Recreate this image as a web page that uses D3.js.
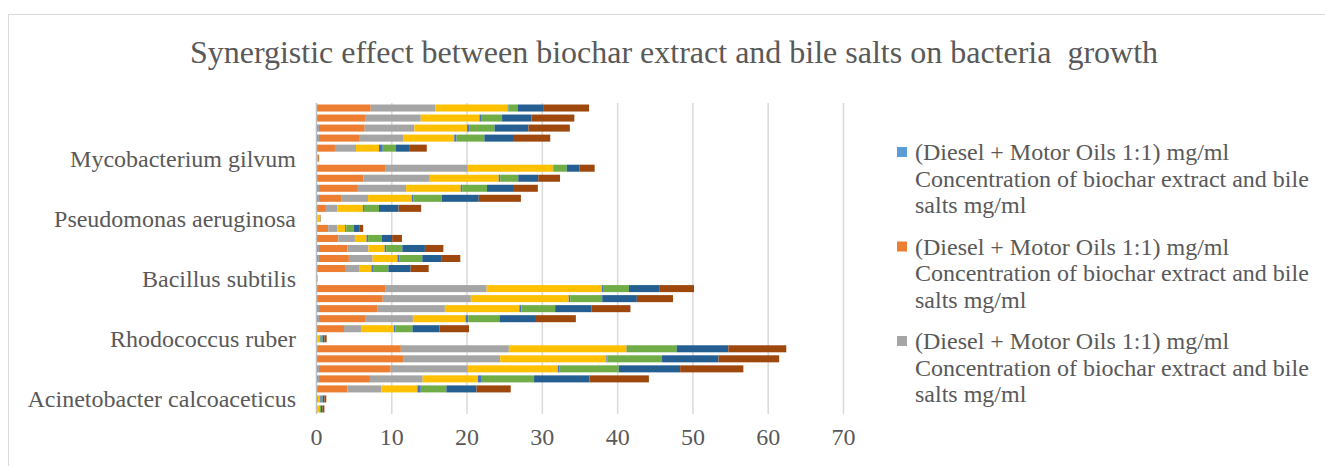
<!DOCTYPE html>
<html>
<head>
<meta charset="utf-8">
<script src="https://cdn.jsdelivr.net/npm/d3@7"></script>
<style>
  body { margin: 0; background: #fff; }
  svg text { font-family: "Liberation Serif", "Times New Roman", serif; fill: #595959; }
</style>
</head>
<body>
<div id="chart"></div>
<script>
// categories, bottom row first (Excel order)
const categories = ["", "Acinetobacter calcoaceticus", "", "", "", "", "", "Rhodococcus ruber", "", "", "", "", "",
    "Bacillus subtilis", "", "", "", "", "", "Pseudomonas aeruginosa", "", "", "", "", "",
    "Mycobacterium gilvum", "", "", "", "", ""];

const seriesName = "(Diesel + Motor Oils 1:1) mg/ml Concentration of biochar extract and bile salts mg/ml";

const blue     = [0,0,0,0.3,0.3,0,0,0,0,0.3,0.3,0,0,0,0,0.3,0.3,0.2,0,0,0,0.3,0.3,0,0,0,0,0.3,0.3,0,0];
const orange   = [0,0,4.1,6.8,9.55,11.5,11.2,0,3.65,6.15,7.75,8.8,9.2,0,3.9,4.0,3.8,2.7,1.55,0.05,1.25,3.05,5.2,6.25,9.2,0.1,2.45,5.35,6.1,6.55,7.2];
const gray     = [0.15,0.2,4.5,7.0,10.25,12.9,14.35,0.15,2.35,6.35,9.0,11.7,13.4,0.15,1.75,3.15,2.8,2.2,1.2,0.05,1.5,3.5,6.4,8.8,10.9,0.1,2.8,5.85,6.6,7.3,8.6];
const yellow   = [0.25,0.3,4.8,7.35,11.95,14.1,15.65,0.3,4.3,7.0,9.9,13.0,15.3,0,1.65,3.3,2.15,1.55,1.05,0.35,3.4,5.8,7.25,9.15,11.3,0.05,3.05,6.8,7.0,7.8,9.6];
const blue2    = [0,0.1,0.45,0.4,0.25,0.15,0.15,0.1,0.15,0.35,0.25,0.2,0.15,0,0.2,0.3,0.2,0.2,0.15,0,0.15,0.25,0.2,0.2,0.05,0,0.5,0.3,0.35,0.2,0.1];
const green    = [0.2,0.2,3.4,7.05,7.85,7.25,6.5,0.25,2.3,4.15,4.5,4.25,3.45,0,2.05,3.0,2.15,1.8,1.0,0.05,2.0,3.75,3.3,2.4,1.8,0,1.75,3.7,3.3,2.8,1.2];
const darkblue = [0.2,0.25,4.0,7.35,8.15,7.5,6.85,0.25,3.6,4.85,4.85,4.6,4.1,0,2.95,2.5,3.0,1.4,0.8,0,2.6,4.9,3.45,2.65,1.7,0,1.75,3.8,4.5,3.9,3.5];
const brown    = [0.25,0.25,4.55,7.9,8.4,8.05,7.7,0.3,3.9,5.3,5.15,4.8,4.55,0,2.4,2.55,2.45,1.3,0.45,0.05,3.0,5.6,3.3,2.9,2.0,0.1,2.35,4.95,5.5,5.7,6.0];

const xTicks = [0, 10, 20, 30, 40, 50, 60, 70];

const seriesData = [blue, orange, gray, yellow, blue2, green, darkblue, brown];
const colors = ["#5B9BD5", "#ED7D31", "#A5A5A5", "#FFC000", "#4472C4", "#70AD47", "#255E91", "#9E480E"];

const W = 1325, H = 466;
const plot = {left: 316.5, right: 843.5, top: 103, bottom: 414};

const svg = d3.select("#chart").append("svg")
    .attr("width", W)
    .attr("height", H);

// chart border
svg.append("rect")
    .attr("x", 8.5).attr("y", 14.5)
    .attr("width", W + 20).attr("height", H + 20)
    .attr("fill", "none")
    .attr("stroke", "#D9D9D9");

// title
svg.append("text")
    .attr("x", 674)
    .attr("y", 63)
    .attr("text-anchor", "middle")
    .style("font-size", "32px")
    .style("white-space", "pre")
    .text("Synergistic effect between biochar extract and bile salts on bacteria  growth");

// scales
const x = d3.scaleLinear().domain([0, 70]).range([plot.left, plot.right]);
const y = d3.scaleBand()
    .domain(d3.range(categories.length))
    .range([plot.bottom, plot.top])
    .paddingInner(0.3)
    .paddingOuter(0.15);

// gridlines
svg.append("g")
    .selectAll("line")
    .data(xTicks.slice(1))
    .enter().append("line")
    .attr("x1", d => x(d)).attr("x2", d => x(d))
    .attr("y1", plot.top).attr("y2", plot.bottom)
    .attr("stroke", "#D9D9D9")
    .attr("stroke-width", 1.5);

// stacked bars
const rows = categories.map((c, i) => {
    const r = {idx: i};
    seriesData.forEach((s, k) => r["s" + k] = s[i]);
    return r;
});
const stack = d3.stack().keys(seriesData.map((s, k) => "s" + k));
const layers = stack(rows);

svg.append("g")
    .selectAll("g")
    .data(layers)
    .enter().append("g")
    .attr("fill", (d, k) => colors[k])
    .selectAll("rect")
    .data(d => d)
    .enter().append("rect")
    .attr("x", d => x(d[0]))
    .attr("width", d => Math.max(0, x(d[1]) - x(d[0])))
    .attr("y", d => y(d.data.idx))
    .attr("height", y.bandwidth());

// category axis line
svg.append("line")
    .attr("x1", plot.left).attr("x2", plot.left)
    .attr("y1", plot.top).attr("y2", plot.bottom)
    .attr("stroke", "#BFBFBF")
    .attr("stroke-width", 1.5);

// category labels
svg.append("g")
    .selectAll("text")
    .data(categories)
    .enter().append("text")
    .attr("x", 296)
    .attr("y", (d, i) => y(i) + y.bandwidth() / 2)
    .attr("dy", "0.35em")
    .attr("text-anchor", "end")
    .style("font-size", "24px")
    .text(d => d);

// x tick labels
svg.append("g")
    .selectAll("text")
    .data(xTicks)
    .enter().append("text")
    .attr("x", d => x(d))
    .attr("y", 445)
    .attr("text-anchor", "middle")
    .style("font-size", "24px")
    .text(d => d);

// legend (only first three entries fit)
const legendLines = ["(Diesel + Motor Oils 1:1) mg/ml", "Concentration of biochar extract and bile", "salts mg/ml"];
const legend = svg.append("g");
[0, 1, 2].forEach((k, n) => {
    const top = 152 + n * 94.5;
    legend.append("rect")
        .attr("x", 897).attr("y", top - 5)
        .attr("width", 10).attr("height", 10)
        .attr("fill", colors[k]);
    legend.append("text")
        .attr("x", 915)
        .attr("y", top)
        .style("font-size", "24px")
        .selectAll("tspan")
        .data(legendLines)
        .enter().append("tspan")
        .attr("x", 915)
        .attr("dy", (d, i) => i === 0 ? "0.35em" : "26.5px")
        .text(d => d);
});
</script>
</body>
</html>
